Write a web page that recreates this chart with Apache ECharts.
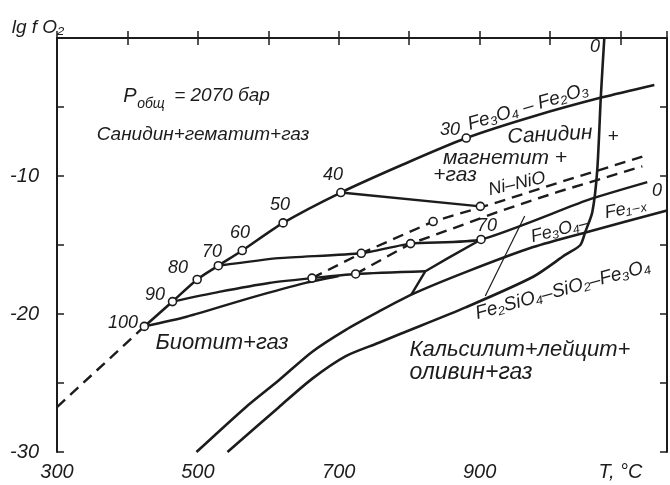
<!DOCTYPE html>
<html>
<head>
<meta charset="utf-8">
<script src="https://cdn.jsdelivr.net/npm/echarts@6/dist/echarts.min.js"></script>
<style>html,body{margin:0;background:#fff}#chart{width:670px;height:485px}</style>
</head>
<body>
<div id="chart"></div>
<script>
// lg fO2 — T diagram, P = 2070 bar
var xTickLabels = {300: '300', 500: '500', 700: '700', 900: '900', 1100: 'T, °C'};
var yTickLabels = {'-10': '-10', '-20': '-20', '-30': '-30'};

// biotite oxidation curve (100 ... 30 marks)
var biotiteCurve = [[424,-20.9],[464,-19.1],[499,-17.5],[529,-16.5],[563,-15.4],[621,-13.4],[703,-11.2],[792,-9.15],[881,-7.25],[978,-5.65],[1074,-4.3],[1148,-3.4]];
var biotiteDashed = [[300,-26.75],[424,-20.9]];
var line40 = [[703,-11.2],[901,-12.2]];
var line70 = [[529,-16.5],[615,-15.95],[732,-15.6],[802,-14.9],[902,-14.6],[1053,-11.75],[1138,-10.45]];
var line90 = [[464,-19.1],[530,-18.4],[601,-17.75],[662,-17.4],[724,-17.1],[823,-16.9]];
var line100 = [[424,-20.9],[484,-20.2],[577,-18.8],[653,-17.75],[700,-17.25]];
var kinkLine = [[803,-18.6],[823,-16.9],[855,-15.95],[902,-14.6]];
// Ni-NiO buffer (two dashed lines)
var niNiO1 = [[662,-17.4],[732,-15.6],[834,-13.3],[926,-11.9],[1011,-10.5],[1131,-8.6]];
var niNiO2 = [[724,-17.1],[802,-14.9],[862,-13.8],[926,-12.6],[1011,-11.15],[1131,-9.3]];
// Fe3O4 - Fe1-x
var magWus = [[498,-30],[568,-26.75],[615,-24.8],[662,-22.75],[710,-21.15],[756,-19.85],[803,-18.6],[881,-16.95],[976,-15.15],[1053,-14.05],[1166,-12.5]];
// Fe2SiO4 - SiO2 - Fe3O4 and the vertical "0" line
var fayalite = [[542,-30],[615,-26.75],[662,-24.7],[710,-23.05],[756,-22.1],[787,-21.45],[881,-19.5],[976,-17.3],[1022,-15.7],[1043,-15.0],[1050,-14.05],[1060,-12.6],[1067,-9.55],[1072,-4.3],[1077,0]];
var pointerLine = [[964,-12.9],[908,-18.7]];
var circlePoints = [[424,-20.9],[464,-19.1],[499,-17.5],[529,-16.5],[563,-15.4],[621,-13.4],[703,-11.2],[881,-7.25],[901,-12.2],[902,-14.6],[732,-15.6],[802,-14.9],[662,-17.4],[724,-17.1],[834,-13.3]];

var ink = '#1c1c1c';
var font = 'Liberation Sans, DejaVu Sans, sans-serif';

function solid(data, w, sm) {
    return {type: 'line', data: data, showSymbol: false, smooth: sm || false,
        lineStyle: {color: ink, width: w || 2.4}, silent: true, z: 2};
}
function dashed(data) {
    return {type: 'line', data: data, showSymbol: false,
        lineStyle: {color: ink, width: 2.4, type: [11, 7]}, silent: true, z: 2};
}
function txt(s, x, y, size, rot) {
    return {type: 'text', x: x, y: y, rotation: rot || 0, z: 10,
        style: {text: s, fontSize: size || 18, fontStyle: 'italic', fontFamily: font, fill: ink,
            align: 'center', verticalAlign: 'middle'}};
}

var myChart = echarts.init(document.getElementById('chart'));
var option = {
    backgroundColor: '#fff',
    animation: false,
    grid: {left: 57, right: 0, top: 38, bottom: 33},
    xAxis: [{
        type: 'value', min: 300, max: 1166, interval: 100, position: 'bottom',
        axisLine: {lineStyle: {color: ink, width: 2}},
        axisTick: {inside: true, length: 7, lineStyle: {color: ink, width: 1.5}},
        axisLabel: {formatter: function (v) { return xTickLabels[v] || ''; }, fontSize: 20, fontStyle: 'italic', fontFamily: font, color: ink, margin: 10},
        splitLine: {show: false}
    }, {
        type: 'value', min: 300, max: 1166, interval: 100, position: 'top',
        axisLine: {lineStyle: {color: ink, width: 2}},
        axisTick: {inside: true, length: 7, lineStyle: {color: ink, width: 1.5}},
        axisLabel: {show: false}, splitLine: {show: false}
    }],
    yAxis: [{
        type: 'value', min: -30, max: 0, interval: 5, position: 'left',
        axisLine: {show: true, lineStyle: {color: ink, width: 2}},
        axisTick: {show: true, inside: true, length: 7, lineStyle: {color: ink, width: 1.5}},
        axisLabel: {formatter: function (v) { return yTickLabels[v] || ''; }, fontSize: 20, fontStyle: 'italic', fontFamily: font, color: ink, margin: 18},
        splitLine: {show: false}
    }, {
        type: 'value', min: -30, max: 0, interval: 5, position: 'right',
        axisLine: {show: true, lineStyle: {color: ink, width: 2}},
        axisTick: {show: true, inside: true, length: 7, lineStyle: {color: ink, width: 1.5}},
        axisLabel: {show: false}, splitLine: {show: false}
    }],
    series: [
        solid(biotiteCurve, 2.6, 0.25),
        dashed(biotiteDashed),
        solid(line40, 2.4),
        solid(line70, 2.4, 0.2),
        solid(line90, 2.4, 0.25),
        solid(line100, 2.4, 0.25),
        solid(kinkLine, 2.4),
        dashed(niNiO1),
        dashed(niNiO2),
        solid(magWus, 2.6, 0.25),
        solid(fayalite, 2.6, 0.25),
        solid(pointerLine, 1.2),
        {type: 'scatter', data: circlePoints, symbol: 'circle', symbolSize: 8, z: 5, silent: true,
            itemStyle: {color: '#fff', borderColor: ink, borderWidth: 1.6, opacity: 1}}
    ],
    graphic: [
        txt('lg f O₂', 38, 28, 19),
        txt('P', 130, 96, 20),
        txt('общ', 151, 104, 14),
        txt('= 2070 бар', 222, 96, 19),
        txt('Санидин+гематит+газ', 203, 135, 19),
        txt('100', 123, 323, 18), txt('90', 155, 295, 18), txt('80', 178, 268, 18),
        txt('70', 212, 252, 18), txt('60', 240, 233, 18), txt('50', 280, 205, 18),
        txt('40', 333, 175, 18), txt('30', 450, 130, 18), txt('70', 487, 226, 18),
        txt('0', 657, 191, 18), txt('0', 595, 47, 18),
        txt('Fe₃O₄ – Fe₂O₃', 528, 107, 19, 0.29),
        txt('Санидин', 550, 135, 21, 0.05),
        txt('+', 613, 137, 19),
        txt('магнетит +', 505, 158, 21),
        txt('+газ', 455, 175, 21),
        txt('Ni–NiO', 517, 184, 18, 0.22),
        txt('Fe₃O₄–', 560, 230, 18, 0.25),
        txt('Fe₁₋ₓ', 626, 209, 18, 0.2),
        txt('Fe₂SiO₄–SiO₂–Fe₃O₄', 563, 290, 19, 0.27),
        txt('Биотит+газ', 222, 343, 22),
        txt('Кальсилит+лейцит+', 520, 350, 22),
        txt('оливин+газ', 471, 373, 23)
    ]
};
myChart.setOption(option);
</script>
</body>
</html>
